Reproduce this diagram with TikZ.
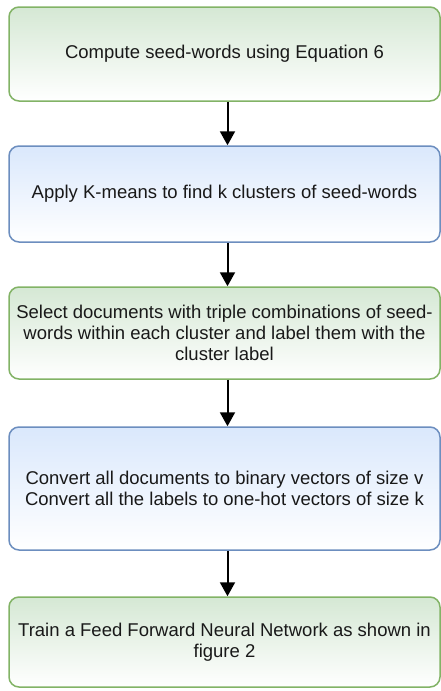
\documentclass[tikz,border=0pt]{standalone}
\usepackage{fontspec}
\setmainfont{Liberation Sans}
\usetikzlibrary{arrows.meta,positioning}
\definecolor{gfill}{HTML}{D5E8D4}
\definecolor{gline}{HTML}{82B366}
\definecolor{bfill}{HTML}{DAE8FC}
\definecolor{bline}{HTML}{6C8EBF}
\tikzset{
  stepbox/.style={rounded corners=10pt, line width=1.5pt, minimum width=431pt,
    inner sep=0pt, align=center, font=\fontsize{18.5pt}{21pt}\selectfont, text=black!90},
  greenbox/.style={stepbox, draw=gline, top color=gfill, bottom color=white},
  bluebox/.style={stepbox, draw=bline, top color=bfill, bottom color=white},
  flow/.style={line width=2pt, black, -{Triangle[length=14pt,width=15pt]}}
}
\begin{document}
\begin{tikzpicture}
\useasboundingbox (0pt,0pt) rectangle (441pt,-691pt);
\node[greenbox, minimum height=94pt] (b1) at (224.5pt,-54pt) {Compute seed-words using Equation 6};
\node[bluebox, minimum height=96pt] (b2) at (224.5pt,-194pt) {Apply K-means to find k clusters of seed-words};
\node[greenbox, minimum height=92pt] (b3) at (224.5pt,-333pt) {Select documents with triple combinations of seed-\\words within each cluster and label them with the\\cluster label};
\node[bluebox, minimum height=123pt] (b4) at (224.5pt,-488.5pt) {Convert all documents to binary vectors of size v\\Convert all the labels to one-hot vectors of size k};
\node[greenbox, minimum height=90pt] (b5) at (224.5pt,-642pt) {Train a Feed Forward Neural Network as shown in\\figure 2};
\draw[flow] ([xshift=3pt]b1.south) -- ([xshift=3pt]b2.north);
\draw[flow] ([xshift=3pt]b2.south) -- ([xshift=3pt]b3.north);
\draw[flow] ([xshift=3pt]b3.south) -- ([xshift=3pt]b4.north);
\draw[flow] ([xshift=3pt]b4.south) -- ([xshift=3pt]b5.north);
\end{tikzpicture}
\end{document}
